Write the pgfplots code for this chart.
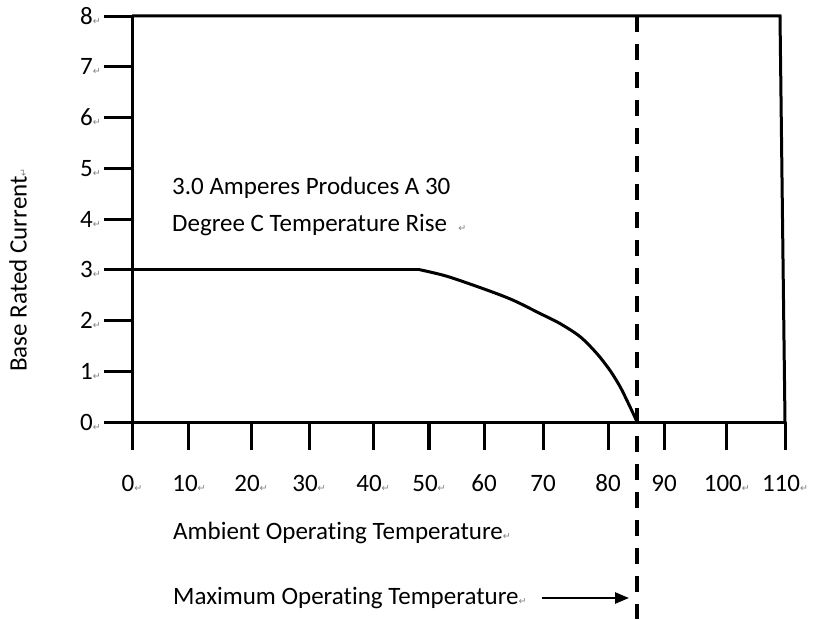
\documentclass[border=0pt]{standalone}
\usepackage{fontspec}
\setmainfont{Carlito}[Ligatures={NoCommon}]
\newfontfamily\symfont{DejaVu Sans}
\usepackage{pgfplots}
\pgfplotsset{compat=1.18}
\usetikzlibrary{arrows.meta}
% small grey paragraph marks, as in the Word original
\newcommand{\ret}{{\symfont\fontsize{9.5}{9.5}\selectfont\color{gray}↵}}
\newcommand{\bigfont}{\fontsize{25}{29}\selectfont}

\begin{document}
\begin{tikzpicture}[font=\bigfont]
\useasboundingbox (-132pt,-197pt) rectangle (695pt,422pt);
\begin{axis}[
  at={(0pt,0pt)}, anchor=south west,
  scale only axis, width=653pt, height=406pt,
  xmin=0, xmax=110, ymin=0, ymax=8,
  axis lines*=left,
  axis line style={line width=3pt},
  clip=false,
  tick align=outside,
  major tick length=28pt,
  tick style={line width=3pt, black},
  xtick={0,9.6,20.05,29.82,40.6,50.03,59.3,69.24,80.19,89.62,100.2,110},
  xticklabels={0\ret,10\ret,20\ret,30\ret,40\ret,50\ret,60,70,80,90,100\ret,110\ret},
  ytick={0,1,2,3,4,5,6,7,8},
  yticklabels={0\ret,1\ret,2\ret,3\ret,4\ret,5\ret,6\ret,7\ret,8\ret},
  ticklabel style={font=\bigfont},
  xticklabel style={anchor=center, yshift=-33pt},
  yticklabel style={anchor=east, inner sep=0pt, xshift=-3pt},
]
\addplot[line width=3pt, black] coordinates {(0,3) (48.5,3)};
\addplot[line width=3pt, black, smooth, tension=0.5] coordinates {
  (48.5,3) (53.1,2.87) (59.8,2.6) (64.2,2.40) (68.7,2.14)
  (72.1,1.94) (75.5,1.68) (78.3,1.35) (80.5,1.02) (82.2,0.70)
  (83.6,0.37) (85.1,0)};
\end{axis}
% frame: top edge and slanted right edge
\draw[line width=3pt] (0pt,406pt) -- (648pt,406pt) -- (653pt,0pt);
% maximum operating temperature marker
\draw[line width=3.5pt, dash pattern=on 16pt off 12pt] (505pt,406pt) -- (505pt,-197pt);
\draw[line width=2.5pt, -{Triangle[length=14pt,width=11pt]}] (410pt,-176pt) -- (497pt,-176pt);

\node[anchor=west, inner sep=0pt] at (40pt,234pt) {3.0 Amperes Produces A 30};
\node[anchor=west, inner sep=0pt] at (40pt,197pt) {Degree C Temperature Rise \ \ret};
\node[anchor=west, inner sep=0pt] at (41pt,-111pt) {Ambient Operating Temperature\ret};
\node[anchor=west, inner sep=0pt] at (41pt,-176pt) {Maximum Operating Temperature\ret};
\node[rotate=90, inner sep=0pt] at (-114pt,152pt) {Base Rated Current\ret};
\end{tikzpicture}
\end{document}
